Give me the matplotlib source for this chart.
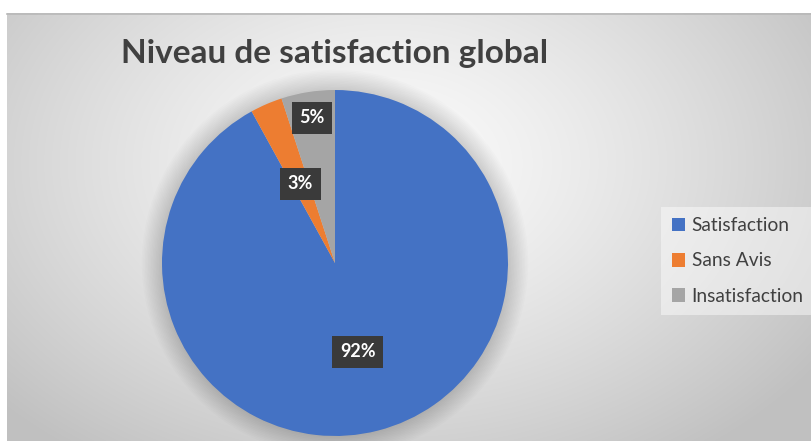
import numpy as np
import matplotlib.pyplot as plt
from matplotlib.patches import Patch, Circle

categories = ["Satisfaction", "Sans Avis", "Insatisfaction"]
values = [92, 3, 5]
colors = ["#4472C4", "#ED7D31", "#A5A5A5"]
label_dist = [0.53, 0.50, 0.85]

W, H = 812, 441
fig = plt.figure(figsize=(W / 100, H / 100), dpi=100)
fig.patch.set_facecolor("white")

# fond en degrade radial (style Excel)
bg = fig.add_axes([7 / W, 0, (W - 7) / W, (H - 13) / H])
yy, xx = np.mgrid[0:428, 0:805]
r = np.sqrt(((xx - 380) / 520.0) ** 2 + ((yy - 150) / 360.0) ** 2)
r = np.clip(r, 0, 1)
g = 0.985 - 0.23 * r ** 1.3
bg.imshow(np.dstack([g, g, g]), aspect="auto", extent=[0, 1, 0, 1])
bg.set_xlim(0, 1)
bg.set_ylim(0, 1)
bg.axis("off")
fig.add_artist(plt.Line2D([7 / W, 1], [1 - 13.5 / H] * 2, color="#b8b8b8", lw=1.2))

# camembert
cx, cy, rad = 335, 263, 173
ax = fig.add_axes([(cx - rad * 1.15) / W, (H - cy - rad * 1.15) / H,
                   2 * rad * 1.15 / W, 2 * rad * 1.15 / H])
ax.axis("off")

# ombre douce autour du camembert
for k in range(14):
    ax.add_patch(Circle((0, 0), 1.0 + 0.009 * k, color="black", alpha=0.011, lw=0, zorder=0))

wedges, texts, autotexts = ax.pie(values, colors=colors, startangle=90, counterclock=False,
                                  radius=1.0, autopct="%1.0f%%",
                                  wedgeprops=dict(linewidth=0),
                                  textprops=dict(color="white", fontsize=13, fontweight="bold",
                                                 family=["Lato", "DejaVu Sans"]))
ax.set_xlim(-1.15, 1.15)
ax.set_ylim(-1.15, 1.15)
ax.set_aspect("equal")
for w, t, d in zip(wedges, autotexts, label_dist):
    ang = np.deg2rad((w.theta1 + w.theta2) / 2)
    t.set_position((d * np.cos(ang), d * np.sin(ang)))
    t.set_bbox(dict(boxstyle="square,pad=0.42", facecolor="#3a3a3a", edgecolor="none"))

fig.text(121 / W, 1 - 53 / H, "Niveau de satisfaction global", fontsize=24, fontweight="bold",
         color="#404040", family=["Lato", "DejaVu Sans"], va="center", ha="left")

handles = [Patch(facecolor=c, edgecolor="none") for c in colors]
leg = fig.legend(handles, categories, loc="center left", bbox_to_anchor=(661 / W, 1 - 261 / H),
                 frameon=True, handlelength=0.7, handleheight=0.7,
                 handletextpad=0.35, labelspacing=0.95, borderpad=0.55, borderaxespad=0,
                 prop=dict(family=["Lato", "DejaVu Sans"], size=13.8))
leg.get_frame().set_facecolor("white")
leg.get_frame().set_alpha(0.45)
leg.get_frame().set_edgecolor("none")
leg.get_frame().set_boxstyle("square,pad=0")
for t in leg.get_texts():
    t.set_color("#404040")

fig.savefig("out.png", dpi=100)
